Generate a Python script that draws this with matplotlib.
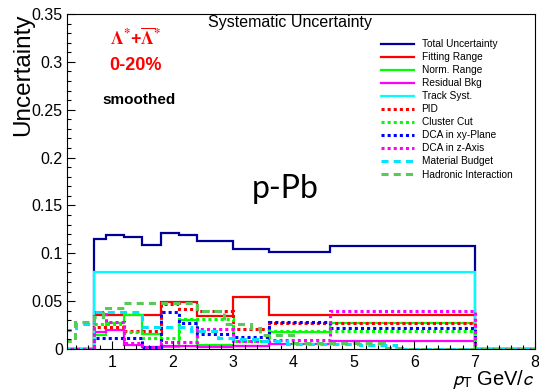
import matplotlib
matplotlib.use("Agg")
import matplotlib.pyplot as plt
from matplotlib.lines import Line2D

plt.rcParams['font.family'] = ['Liberation Sans', 'DejaVu Sans']
plt.rcParams['mathtext.fontset'] = 'stix'

# pT binning of the systematic histograms (GeV/c)
edges = [0.0, 0.7, 0.9, 1.2, 1.5, 1.8, 2.1, 2.4, 3.0, 3.6, 4.6, 7.0, 8.0]

total_unc = [0, 0.1145, 0.119, 0.1167, 0.109, 0.121, 0.119, 0.113, 0.104, 0.101, 0.108, 0]
fitting_range = [0, 0.036, 0.036, 0.036, 0.036, 0.049, 0.049, 0.034, 0.054, 0.0355, 0.0355, 0]
norm_range = [0, 0.015, 0.027, 0.0355, 0.016, 0.002, 0.030, 0.004, 0.0035, 0.0174, 0.0275, 0]
residual_bkg = [0, 0.018, 0.020, 0.004, 0.0024, 0.003, 0.003, 0.0024, 0.003, 0.005, 0.0084, 0]
track_syst = [0, 0.08, 0.08, 0.08, 0.08, 0.08, 0.08, 0.08, 0.08, 0.08, 0.08, 0]
pid = [0, 0.023, 0.023, 0.019, 0.019, 0.047, 0.0415, 0.040, 0.021, 0.0275, 0.0275, 0]
cluster_cut = [0, 0.026, 0.026, 0.018, 0.011, 0.011, 0.031, 0.031, 0.008, 0.019, 0.019, 0]
dca_xy = [0, 0.011, 0.011, 0.011, 0.0024, 0.039, 0.0268, 0.0153, 0.0129, 0.0286, 0.0216, 0]
dca_z = [0, 0.039, 0.0286, 0.006, 0.0024, 0.007, 0.0077, 0.0209, 0.0084, 0.009, 0.0397, 0]

# smoothed contributions have their own finer steps
mat_edges = [0.0, 0.4, 0.7, 1.5, 2.3, 2.75, 3.0, 3.5, 3.9, 5.1, 5.7, 8.0]
material_budget = [0.020, 0.026, 0.039, 0.023, 0.019, 0.0117, 0.010, 0.0085, 0.005, 0.004, 0.0]
had_edges = [0.0, 0.38, 0.7, 0.85, 1.2, 2.4, 2.85, 3.3, 3.45, 4.0, 5.5, 5.8, 8.0]
hadronic_int = [0.008, 0.0285, 0.033, 0.043, 0.048, 0.040, 0.0265, 0.022, 0.0146, 0.006, 0.001, 0.0]

dot = (0, (1, 1))
dash = (0, (2.3, 1.7))

# label, values, edges, colour, linestyle, width
series = [
    ("Total Uncertainty", total_unc, edges, "#000099", "-", 1.6),
    ("Fitting Range", fitting_range, edges, "#ff0000", "-", 1.6),
    ("Norm. Range", norm_range, edges, "#00ff00", "-", 1.6),
    ("Residual Bkg", residual_bkg, edges, "#ff00ff", "-", 1.6),
    ("Track Syst.", track_syst, edges, "#00ffff", "-", 1.6),
    ("PID", pid, edges, "#ff0000", dot, 2.2),
    ("Cluster Cut", cluster_cut, edges, "#00ff00", dot, 2.2),
    ("DCA in xy-Plane", dca_xy, edges, "#0000ff", dot, 2.2),
    ("DCA in z-Axis", dca_z, edges, "#ff00ff", dot, 2.2),
    ("Material Budget", material_budget, mat_edges, "#00e5ff", dash, 2.2),
    ("Hadronic Interaction", hadronic_int, had_edges, "#57c957", dash, 2.2),
]

fig = plt.figure(figsize=(5.39, 3.92), dpi=100)
ax = fig.add_axes([67 / 539, 1 - 349 / 392, 468 / 539, 335 / 392])

handles = []
for label, vals, e, col, ls, lw in series:
    ax.stairs(vals, e, baseline=None, color=col, linestyle=ls, linewidth=lw)
    handles.append(Line2D([], [], color=col, linestyle=ls, linewidth=lw, label=label))

ax.set_xlim(0.25, 8.0)
ax.set_ylim(0, 0.35)
ax.set_xticks(range(1, 9))
ax.set_xticks([x / 5 for x in range(2, 40)], minor=True)
ax.set_yticks([0, 0.05, 0.1, 0.15, 0.2, 0.25, 0.3, 0.35])
ax.set_yticklabels(["0", "0.05", "0.1", "0.15", "0.2", "0.25", "0.3", "0.35"])
ax.set_yticks([y / 100 for y in range(0, 36)], minor=True)
ax.tick_params(which="both", direction="in", labelsize=11.5, width=0.8)
ax.tick_params(which="major", length=6)
ax.tick_params(which="minor", length=3)
ax.tick_params(axis="y", pad=3)
ax.tick_params(axis="x", pad=4)

ax.set_ylabel("Uncertainty", fontsize=17.5, loc="top", labelpad=-2)
ax.set_xlabel(r"$p_{\mathrm{T}}$ GeV/$c$", fontsize=14.5, loc="right",
              math_fontfamily="stixsans")
ax.xaxis.set_label_coords(1.0, -0.058)

ax.legend(handles=handles, loc="upper left", bbox_to_anchor=(0.671, 0.925),
          frameon=False, handlelength=3.3, handletextpad=0.7,
          labelspacing=0.3, borderaxespad=0, borderpad=0,
          prop={"family": ["Liberation Sans Narrow", "Liberation Sans"], "size": 7.3})

fig.text(290 / 539, 1 - 22 / 392, "Systematic Uncertainty", ha="center", va="center",
         fontsize=11.5, family=["Liberation Sans Narrow", "Liberation Sans"])
fig.text(136 / 539, 1 - 38 / 392, r"$\mathbf{\Lambda^{*}}$+$\mathbf{\overline{\Lambda}^{*}}$",
         ha="center", va="center", color="red", fontsize=13, fontweight="bold")
fig.text(136 / 539, 1 - 66 / 392, "0-20%", ha="center", va="center", color="red",
         fontsize=13, fontweight="bold", family=["Liberation Sans Narrow", "Liberation Sans"])
fig.text(139 / 539, 1 - 100 / 392, "smoothed", ha="center", va="center",
         fontsize=11, fontweight="bold", family=["Liberation Sans Narrow", "Liberation Sans"])
fig.text(285 / 539, 1 - 189 / 392, "p-Pb", ha="center", va="center",
         fontsize=23, family=["Lato", "DejaVu Sans"])

fig.savefig("out.png", dpi=100)
